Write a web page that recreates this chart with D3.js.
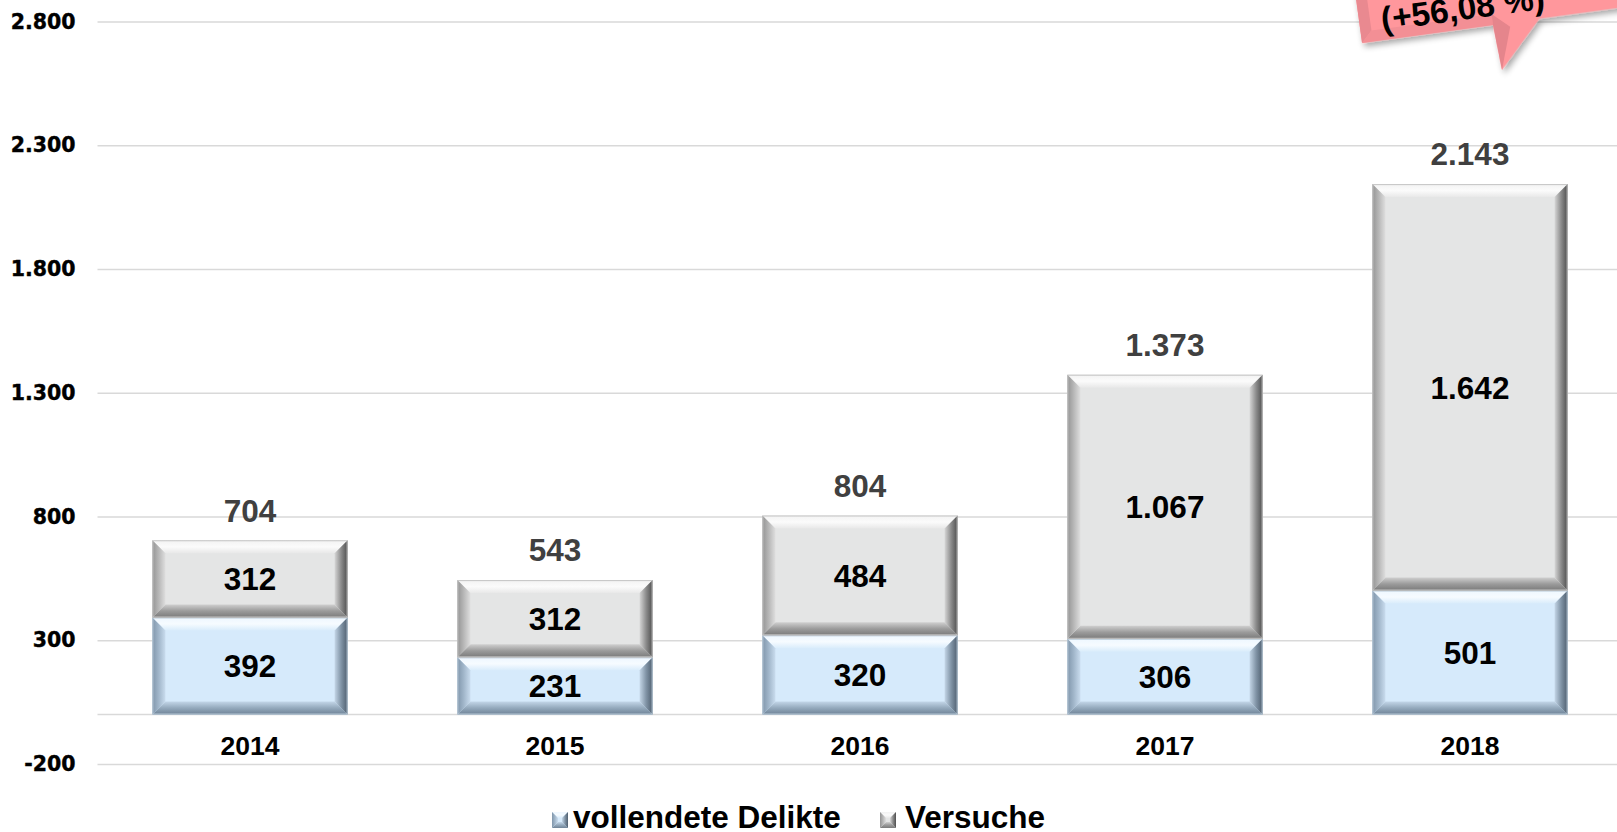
<!DOCTYPE html>
<html>
<head>
<meta charset="utf-8">
<script src="https://cdn.jsdelivr.net/npm/d3@7/dist/d3.min.js"></script>
<style>
  html, body { margin: 0; padding: 0; background: #ffffff; overflow: hidden; }
  svg { display: block; }
</style>
</head>
<body>
<svg id="chart" width="1617" height="832"></svg>
<script>
// ---------- DATA ----------
const years = ["2014", "2015", "2016", "2017", "2018"];
const vollendeteDelikte = [392, 231, 320, 306, 501];
const versuche = [312, 312, 484, 1067, 1642];
const totals = [704, 543, 804, 1373, 2143];
const seriesNames = ["vollendete Delikte", "Versuche"];
const yTicks = [-200, 300, 800, 1300, 1800, 2300, 2800];
const calloutText = "(+56,08 %)";
const calloutAnchorValue = 2604;   // value level where the callout pointer ends

// ---------- SETUP ----------
const W = 1617, H = 832;
const svg = d3.select("#chart");
const de = d3.formatLocale({ decimal: ",", thousands: ".", grouping: [3], currency: ["", " €"], minus: "-" });
const fmt = de.format(",d");

const plotLeft = 97.5, plotRight = 1622.5;
const x = d3.scaleBand().domain(years).range([plotLeft, plotRight]).paddingInner(0.36).paddingOuter(0.18);
const y = d3.scaleLinear().domain([-200, 2800]).range([764, 21.5]);

const defs = svg.append("defs");
function grad(id, dir, stops) {
  const g = defs.append("linearGradient").attr("id", id);
  // gradient goes from inner (offset 0) to outer edge (offset 1)
  if (dir === "left") { g.attr("x1", 1).attr("x2", 0).attr("y1", 0).attr("y2", 0); }
  if (dir === "right") { g.attr("x1", 0).attr("x2", 1).attr("y1", 0).attr("y2", 0); }
  if (dir === "top") { g.attr("x1", 0).attr("x2", 0).attr("y1", 1).attr("y2", 0); }
  if (dir === "bottom") { g.attr("x1", 0).attr("x2", 0).attr("y1", 0).attr("y2", 1); }
  stops.forEach((c, i) => g.append("stop").attr("offset", i / (stops.length - 1)).attr("stop-color", c));
}
const styles = {
  blue: {
    fill: "#d6eafb",
    top: ["#d9ecfb", "#f6fbff", "#eef7ff"],
    bottom: ["#c3d6e8", "#94a9bc", "#6f8397"],
    left: ["#c9dcee", "#a2b7cb", "#8096ab"],
    right: ["#c4d6e7", "#8194a6", "#4f5f6f"]
  },
  grey: {
    fill: "#e4e5e5",
    top: ["#e8e8e8", "#fbfbfb", "#f2f2f2"],
    bottom: ["#cfcfcf", "#9b9b9b", "#7a7a7a"],
    left: ["#dedede", "#b8b8b8", "#949494"],
    right: ["#d6d6d6", "#8c8c8c", "#4e4e4e"]
  }
};
Object.entries(styles).forEach(([k, s]) => {
  ["top", "bottom", "left", "right"].forEach(d => grad(`g-${k}-${d}`, d, s[d]));
});

function bevelRect(g, x0, y0, w, h, b, key, outline) {
  const s = styles[key];
  b = Math.min(b, h / 2, w / 2);
  const x1 = x0 + w, y1 = y0 + h;
  g.append("rect").attr("x", x0).attr("y", y0).attr("width", w).attr("height", h).attr("fill", s.fill);
  const poly = (pts, fill) => g.append("polygon").attr("points", pts.map(p => p.join(",")).join(" ")).attr("fill", fill);
  poly([[x0, y0], [x1, y0], [x1 - b, y0 + b], [x0 + b, y0 + b]], `url(#g-${key}-top)`);
  poly([[x0, y1], [x1, y1], [x1 - b, y1 - b], [x0 + b, y1 - b]], `url(#g-${key}-bottom)`);
  poly([[x0, y0], [x0 + b, y0 + b], [x0 + b, y1 - b], [x0, y1]], `url(#g-${key}-left)`);
  poly([[x1, y0], [x1 - b, y0 + b], [x1 - b, y1 - b], [x1, y1]], `url(#g-${key}-right)`);
  if (outline) {
    g.append("rect").attr("x", x0 + 0.5).attr("y", y0 + 0.5).attr("width", w - 1).attr("height", h - 1)
      .attr("fill", "none").attr("stroke", outline).attr("stroke-width", 1);
  }
}

// ---------- GRID + Y AXIS ----------
const yAxis = d3.axisLeft(y).tickValues(yTicks).tickFormat(fmt).tickSize(-(W - plotLeft)).tickPadding(22);
const ga = svg.append("g").attr("transform", `translate(${plotLeft},0)`).call(yAxis);
ga.select(".domain").remove();
ga.selectAll(".tick line").attr("stroke", "#d9d9d9").attr("stroke-width", 1.6);
ga.selectAll(".tick text")
  .attr("font-family", "'DejaVu Sans', Verdana, sans-serif")
  .attr("font-weight", "bold").attr("font-size", 20.5).attr("fill", "#000")
  .attr("stroke", "#000").attr("stroke-width", 0.4);

// zero / category axis line
svg.append("line").attr("x1", plotLeft).attr("x2", W).attr("y1", y(0)).attr("y2", y(0))
  .attr("stroke", "#d9d9d9").attr("stroke-width", 1.6);

// ---------- BARS ----------
const bw = x.bandwidth();
const barsG = svg.append("g");
years.forEach((yr, i) => {
  const g = barsG.append("g");
  const v1 = vollendeteDelikte[i], v2 = versuche[i];
  bevelRect(g, x(yr), y(v1), bw, y(0) - y(v1), 13, "blue", "#b8c8d6");
  bevelRect(g, x(yr), y(v1 + v2), bw, y(v1) - y(v1 + v2), 13, "grey", "#c4c4c4");
});

// data labels
const labelFont = "'Liberation Sans', Arial, sans-serif";
function label(xp, yp, txt, size, color) {
  svg.append("text").attr("x", xp).attr("y", yp).attr("dy", "0.36em")
    .attr("text-anchor", "middle").attr("font-family", labelFont).attr("font-weight", "bold")
    .attr("font-size", size).attr("fill", color).text(txt);
}
years.forEach((yr, i) => {
  const v1 = vollendeteDelikte[i], v2 = versuche[i];
  const cx = x(yr) + bw / 2;
  label(cx, (y(0) + y(v1)) / 2, fmt(v1), 31.5, "#000");
  label(cx, (y(v1) + y(v1 + v2)) / 2, fmt(v2), 31.5, "#000");
  label(cx, y(totals[i]) - 30, fmt(totals[i]), 31.5, "#404040");
  label(cx, 745, yr, 26.5, "#000");
});

// ---------- CALLOUT ----------
const shadow = defs.append("filter").attr("id", "shadow").attr("x", "-20%").attr("y", "-20%").attr("width", "140%").attr("height", "140%");
shadow.append("feGaussianBlur").attr("in", "SourceAlpha").attr("stdDeviation", 3);
shadow.append("feOffset").attr("dx", 2).attr("dy", 4).attr("result", "ob");
shadow.append("feComponentTransfer").append("feFuncA").attr("type", "linear").attr("slope", 0.35);
const fm = shadow.append("feMerge");
fm.append("feMergeNode");
fm.append("feMergeNode").attr("in", "SourceGraphic");

const tipX = x("2018") + bw / 2 + 32, tipY = y(calloutAnchorValue);
const cg = svg.append("g").attr("transform", `translate(${tipX},${tipY}) rotate(-7.8)`);
const P = pts => pts.map(p => p.join(",")).join(" ");
const bx0 = -135, bx1 = 160, by0 = -230, by1 = -45.8;
cg.append("polygon").attr("filter", "url(#shadow)")
  .attr("points", P([[bx0, by0], [bx0, by1], [-2.8, by1], [0, 0], [44, by1], [bx1, by1], [bx1, by0]]))
  .attr("fill", "#ff979c");
cg.append("polygon").attr("points", P([[bx0, by0], [bx0, by1], [bx0 + 11, by1 - 11], [bx0 + 11, by0]])).attr("fill", "#e98990");
cg.append("polygon").attr("points", P([[bx0, by1], [-2.8, by1], [-2.8, by1 - 11], [bx0 + 11, by1 - 11]])).attr("fill", "#f38f95");
cg.append("polygon").attr("points", P([[-2.8, by1 - 11], [-2.8, by1], [0, 0], [14, by1 + 4]])).attr("fill", "#e5858c");
cg.append("text").attr("x", -113).attr("y", -55).attr("text-anchor", "start")
  .attr("font-family", labelFont).attr("font-weight", "bold").attr("font-size", 33.5)
  .attr("fill", "#000").text(calloutText);

// ---------- LEGEND ----------
const legend = svg.append("g");
const legendItems = [
  { name: seriesNames[0], key: "blue", mx: 552, tx: 573 },
  { name: seriesNames[1], key: "grey", mx: 880, tx: 905 }
];
legendItems.forEach(it => {
  const g = legend.append("g");
  bevelRect(g, it.mx, 812, 16, 16, 6, it.key, null);
  g.append("text").attr("x", it.tx).attr("y", 828).attr("font-family", labelFont)
    .attr("font-weight", "bold").attr("font-size", 31.5).attr("fill", "#000").text(it.name);
});
</script>
</body>
</html>
